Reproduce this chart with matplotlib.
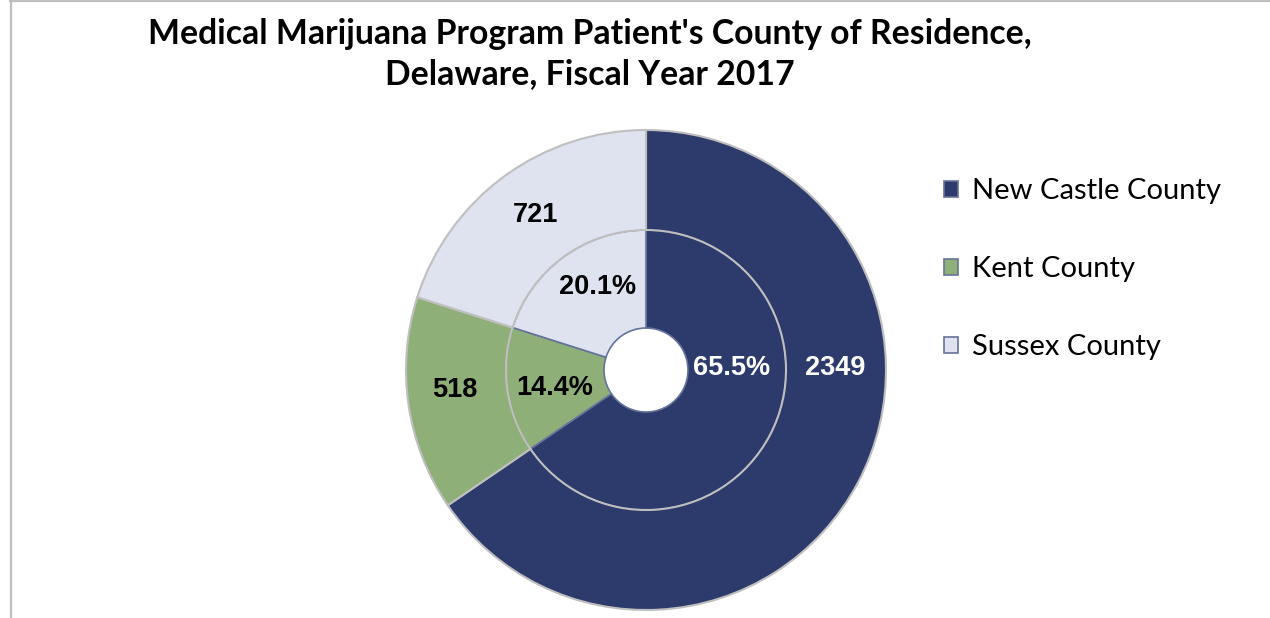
import matplotlib.pyplot as plt
from matplotlib.lines import Line2D
from matplotlib.patches import Patch

# Patients by county of residence, FY2017
counties = ['New Castle County', 'Kent County', 'Sussex County']
patients = [2349, 518, 721]
colors = ['#2C3B6B', '#8FAF78', '#DFE3F0']
text_colors = ['white', 'black', 'black']

# label anchor points (data units, ring radius = 1)
count_pos = [(0.79, 0.01), (-0.795, -0.085), (-0.46, 0.645)]
pct_pos = [(0.355, 0.01), (-0.38, -0.075), (-0.2, 0.345)]

total = sum(patients)
pcts = [v / total * 100 for v in patients]

fig = plt.figure(figsize=(12.7, 6.18), dpi=100)
ax = fig.add_axes([406 / 1270, 8 / 618, 480 / 1270, 480 / 618])

# inner ring (percent shares)
ax.pie(patients, radius=140 / 240, colors=colors, startangle=90, counterclock=False,
       wedgeprops=dict(width=98 / 240, edgecolor='#65739A', linewidth=1.2))
# outer ring (patient counts)
ax.pie(patients, radius=1.0, colors=colors, startangle=90, counterclock=False,
       wedgeprops=dict(width=100 / 240, edgecolor='#BFBFBF', linewidth=1.5))
ax.set_xlim(-1.0, 1.0)
ax.set_ylim(-1.0, 1.0)
ax.set_aspect('equal')

for v, p, c, cp, pp in zip(patients, pcts, text_colors, count_pos, pct_pos):
    ax.text(cp[0], cp[1], f'{v}', ha='center', va='center', color=c,
            fontsize=19.5, fontweight='bold', family='Liberation Sans')
    ax.text(pp[0], pp[1], f'{p:.1f}%', ha='center', va='center', color=c,
            fontsize=19.5, fontweight='bold', family='Liberation Sans')

fig.text(0.4646, 0.912, "Medical Marijuana Program Patient's County of Residence,\nDelaware, Fiscal Year 2017",
         ha='center', va='center', fontsize=24.3, fontweight='bold', family='Lato', linespacing=1.32)

handles = [Patch(facecolor=col, edgecolor='#65739A', linewidth=1.2) for col in colors]
fig.legend(handles, counties, loc='upper left', bbox_to_anchor=(918 / 1270, 1 - 152 / 618),
           frameon=False, prop=dict(family='Lato', size=21), handlelength=0.47, handleheight=0.47,
           handletextpad=0.48, labelspacing=1.78)

# chart area border (left and top edges)
fig.add_artist(Line2D([10.5 / 1270, 10.5 / 1270], [0, 1], color='#BFBFBF', linewidth=1.6))
fig.add_artist(Line2D([10 / 1270, 1], [617 / 618, 617 / 618], color='#BFBFBF', linewidth=1.6))

fig.savefig('out.png', dpi=100)
